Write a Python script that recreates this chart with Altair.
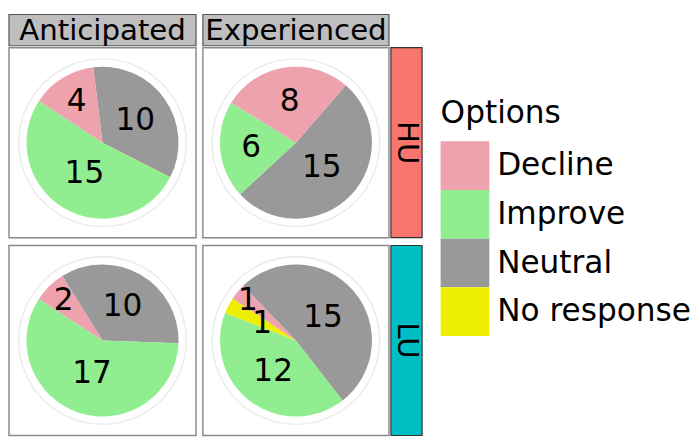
import math
import altair as alt
import pandas as pd

FONT = "DejaVu Sans"

# ---- data ----
columns = ["Anticipated", "Experienced"]
rows = ["HU", "LU"]
row_colors = ["#F8766D", "#00BFC4"]

options = ["Decline", "Improve", "Neutral", "No response"]
option_colors = ["#EEA2AD", "#90EE90", "#999999", "#EEEE00"]

panel_col = ["Anticipated"] * 3 + ["Experienced"] * 3 + ["Anticipated"] * 3 + ["Experienced"] * 4
panel_row = ["HU"] * 6 + ["LU"] * 7
slice_option = ["Neutral", "Improve", "Decline"] * 3 + ["Neutral", "Improve", "No response", "Decline"]
slice_count = [10, 15, 4, 15, 6, 8, 10, 17, 2, 15, 12, 1, 1]

# rotation of each pie (degrees, clockwise from 12 o'clock) where the first slice starts
start_deg = {("Anticipated", "HU"): -7, ("Experienced", "HU"): 41,
             ("Anticipated", "LU"): -32, ("Experienced", "LU"): -44}

df = pd.DataFrame({"col": panel_col, "row": panel_row, "option": slice_option, "count": slice_count})
grp = df.groupby(["col", "row"])["count"]
total = grp.transform("sum")
df["before"] = grp.cumsum() - df["count"]
offset = [start_deg[(c, r)] / 360 * t for c, r, t in zip(df["col"], df["row"], total)]
df["t0"] = df["before"] + offset
df["t1"] = df["t0"] + df["count"]
df["tm"] = (df["t0"] + df["t1"]) / 2
TOTAL = int(total.max())

# ---- layout ----
PW = [192, 191]
PH = 195
HH = 32
SW = 32
R = 78
FS = 32
HFS = 30

theta_scale = alt.Scale(domain=[0, TOTAL], range=[0, 2 * math.pi], nice=False, zero=False)
color_scale = alt.Scale(domain=options, range=option_colors)


def panel(c, r, w):
    base = alt.Chart(df).transform_filter((alt.datum.col == c) & (alt.datum.row == r))
    ring = alt.Chart(pd.DataFrame({"a": [0]})).mark_arc(
        filled=False, stroke="#ececec", strokeWidth=1.5
    ).encode(theta=alt.value(0), theta2=alt.value(2 * math.pi), radius=alt.value(86))
    arcs = base.mark_arc(radius=R).encode(
        theta=alt.Theta("t0:Q", scale=theta_scale, stack=None),
        theta2="t1:Q",
        color=alt.Color("option:N", scale=color_scale,
                        legend=alt.Legend(title="Options", orient="none", legendX=443, legendY=86)),
    )
    labels = base.transform_calculate(
        lr="datum.option == 'No response' ? 0.5 : (64 - 10 * log(datum.count)) / 78"
    ).mark_text(fontSize=FS, font=FONT, color="black", baseline="middle", align="center").encode(
        theta=alt.Theta("tm:Q", scale=theta_scale, stack=None),
        radius=alt.Radius("lr:Q", scale=alt.Scale(type="linear", domain=[0, 1], range=[0, R], nice=False)),
        text="count:Q",
    )
    return alt.layer(ring, arcs, labels).properties(
        width=w, height=PH, view=alt.ViewBackground(stroke="#8a8a8a", strokeWidth=1.5)
    )


def header(text, w):
    d = pd.DataFrame({"label": [text]})
    rect = alt.Chart(d).mark_rect(fill="#bebebe", stroke="#555555", strokeWidth=1.2).encode(
        x=alt.value(0), x2=alt.value(w), y=alt.value(0), y2=alt.value(HH))
    txt = alt.Chart(d).mark_text(fontSize=HFS, font=FONT, color="black", baseline="middle").encode(
        x=alt.value(w / 2), y=alt.value(HH / 2 + 1), text="label:N")
    return alt.layer(rect, txt).properties(width=w, height=HH)


def strip(text, color):
    d = pd.DataFrame({"label": [text]})
    rect = alt.Chart(d).mark_rect(fill=color, stroke="#333333", strokeWidth=1.2).encode(
        x=alt.value(0), x2=alt.value(SW), y=alt.value(0), y2=alt.value(PH))
    txt = alt.Chart(d).mark_text(fontSize=HFS, font=FONT, color="black", baseline="middle", angle=90).encode(
        x=alt.value(SW / 2), y=alt.value(PH / 2), text="label:N")
    return alt.layer(rect, txt).properties(width=SW, height=PH)


def row_chart(i):
    pies = alt.hconcat(panel(columns[0], rows[i], PW[0]), panel(columns[1], rows[i], PW[1]), spacing=5)
    return alt.hconcat(pies, strip(rows[i], row_colors[i]), spacing=0)


top = alt.hconcat(header(columns[0], PW[0]), header(columns[1], PW[1]), spacing=5)
chart = alt.vconcat(alt.vconcat(top, row_chart(0), spacing=0), row_chart(1), spacing=6)

chart = chart.resolve_scale(color="shared").properties(
    padding=0
).configure_view(strokeWidth=0).configure_text(font=FONT).configure_legend(
    titleFont=FONT, labelFont=FONT, titleFontSize=FS, labelFontSize=FS,
    titleFontWeight="normal", titleColor="black", labelColor="black",
    symbolType="square", symbolSize=2500, rowPadding=-2.5,
    symbolStrokeWidth=0,
    labelOffset=8, titlePadding=12, labelLimit=400,
)

chart.save("out.html", embed_options={"renderer": "svg", "actions": False})
